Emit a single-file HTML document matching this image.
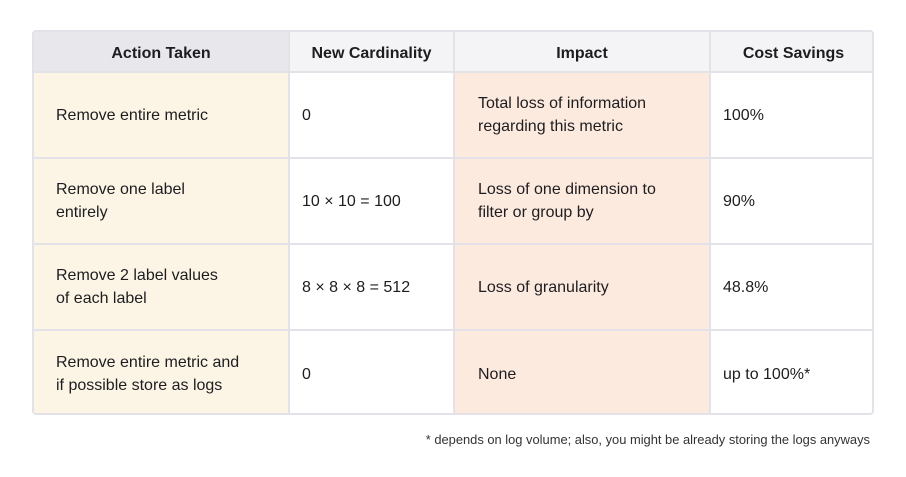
<!DOCTYPE html>
<html><head><style>
body{margin:0;width:906px;height:477px;background:#fff;font-family:"Liberation Sans",sans-serif;color:#1d1d20;position:relative;overflow:hidden}
.c{position:absolute;box-sizing:border-box;display:flex;align-items:center;font-size:16px;line-height:23px;border-right:2px solid #e2e2e8;border-bottom:2px solid #e2e2e8}
.h{justify-content:center;font-weight:bold;background:#f4f4f6;padding-top:3px}
#t{position:absolute;left:32px;top:30px;width:842px;height:385px;border:2px solid #e2e2e8;border-radius:4px;box-sizing:border-box;overflow:hidden}
.n{position:absolute;right:36px;top:432px;font-size:12.9px;color:#333}
</style></head><body>
<div id="t">
<div class="c h" style="left:0;top:0;width:256px;height:41px;background:#e8e8ec">Action Taken</div>
<div class="c h" style="left:256px;top:0;width:165px;height:41px">New Cardinality</div>
<div class="c h" style="left:421px;top:0;width:256px;height:41px">Impact</div>
<div class="c h" style="left:677px;top:0;width:165px;height:41px;border-right:none">Cost Savings</div>

<div class="c" style="left:0;top:41px;width:256px;height:86px;background:#fcf5e6;padding-left:22px">Remove entire metric</div>
<div class="c" style="left:256px;top:41px;width:165px;height:86px;padding-left:12px">0</div>
<div class="c" style="left:421px;top:41px;width:256px;height:86px;background:#fdeadf;padding-left:23px">Total loss of information<br>regarding this metric</div>
<div class="c" style="left:677px;top:41px;width:165px;height:86px;padding-left:12px;border-right:none">100%</div>

<div class="c" style="left:0;top:127px;width:256px;height:86px;background:#fcf5e6;padding-left:22px">Remove one label<br>entirely</div>
<div class="c" style="left:256px;top:127px;width:165px;height:86px;padding-left:12px">10 × 10 = 100</div>
<div class="c" style="left:421px;top:127px;width:256px;height:86px;background:#fdeadf;padding-left:23px">Loss of one dimension to<br>filter or group by</div>
<div class="c" style="left:677px;top:127px;width:165px;height:86px;padding-left:12px;border-right:none">90%</div>

<div class="c" style="left:0;top:213px;width:256px;height:86px;background:#fcf5e6;padding-left:22px">Remove 2 label values<br>of each label</div>
<div class="c" style="left:256px;top:213px;width:165px;height:86px;padding-left:12px">8 × 8 × 8 = 512</div>
<div class="c" style="left:421px;top:213px;width:256px;height:86px;background:#fdeadf;padding-left:23px">Loss of granularity</div>
<div class="c" style="left:677px;top:213px;width:165px;height:86px;padding-left:12px;border-right:none">48.8%</div>

<div class="c" style="left:0;top:299px;width:256px;height:86px;background:#fcf5e6;padding-left:22px;border-bottom:none">Remove entire metric and<br>if possible store as logs</div>
<div class="c" style="left:256px;top:299px;width:165px;height:86px;padding-left:12px;border-bottom:none">0</div>
<div class="c" style="left:421px;top:299px;width:256px;height:86px;background:#fdeadf;padding-left:23px;border-bottom:none">None</div>
<div class="c" style="left:677px;top:299px;width:165px;height:86px;padding-left:12px;border-right:none;border-bottom:none">up to 100%*</div>
</div>
<div class="n">* depends on log volume; also, you might be already storing the logs anyways</div>
</body></html>
